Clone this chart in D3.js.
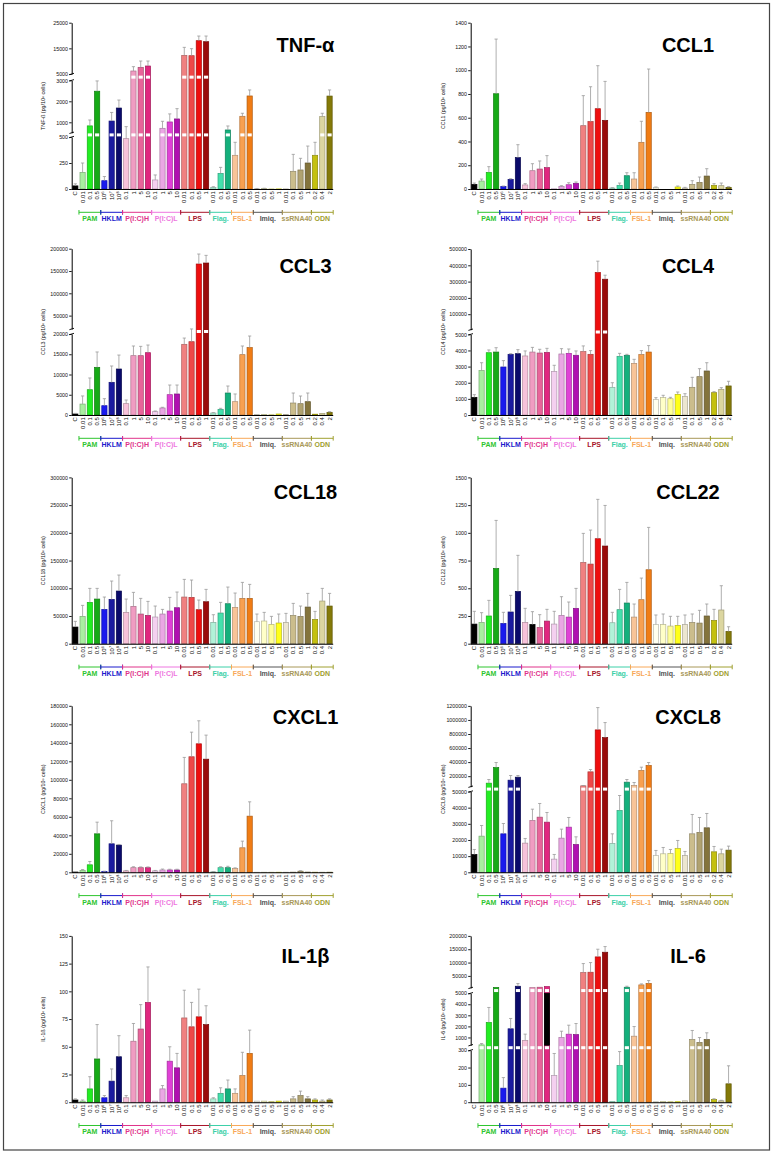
<!DOCTYPE html>
<html><head><meta charset="utf-8">
<script src="https://cdn.jsdelivr.net/npm/d3@7"></script>
<style>body{margin:0;background:#fff} svg{display:block} text{font-family:"Liberation Sans",Arial,sans-serif}</style>
</head><body><div id="chart"></div>
<script>
// ---------------- DATA ----------------
const categories = ["C","0.01","0.1","0.5","10⁶","10⁷","10⁸","0.1","1","5","10","0.1","1","5","10","0.01","0.1","0.5","1","0.01","0.1","0.5","0.01","0.1","0.5","0.01","0.1","0.5","1","0.01","0.1","0.5","1","0.2","0.4","2"];
const groupNames = ["PAM","HKLM","P(I:C)H","P(I:C)L","LPS","Flag.","FSL-1","Imiq.","ssRNA40","ODN"];
const groupSizes = [3,3,4,4,4,3,3,4,4,3];
const groupColors = ["#2ec52e","#1a1acc","#e0338a","#ee77e0","#a8142a","#3cd0a8","#f8a858","#555555","#a89858","#a0a030"];
const barColors = ["#000000",
 "#a8eea0","#22ee22","#16aa16",
 "#1a1aee","#1a1aa0","#0a0a6a",
 "#f7c2da","#f09cc2","#e8649a","#e0277f",
 "#f4d0f0","#eaa6e4","#e040d6","#b010b0",
 "#f08080","#ee4848","#ee0e0e","#9a0a0a",
 "#b2f2d8","#44e0ac","#14b07c",
 "#f8c498","#f8a050","#f07c14",
 "#fffff0","#ffffc8","#ffff98","#ffff1a",
 "#ece6d0","#cbbd8c","#b0a270","#84743c",
 "#c4c010","#dcd6a0","#847a08"];

const tnfMean = [30,160,830,2480,80,1060,1680,484,6170,7600,8120,87,714,1016,1160,12270,12140,17990,17600,16,150,635,324,1286,2254,3,4,1,1,1,170,183,250,324,1270,2250];
const tnfSD   = [20,90,280,490,40,410,380,310,1690,2460,1940,48,334,384,490,3120,2730,1810,2200,6,58,190,125,144,286,2,3,0,0,0,163,112,163,125,160,290];
const tnfTicks = [[0,250,500],[1000,2000,3000],[5000,15000,25000]];

const ccl1Mean = [39,67,140,802,22,81,264,34,154,168,180,2,20,36,48,533,567,676,578,8,31,112,84,393,645,14,0,0,17,8,39,56,109,31,28,14];
const ccl1SD   = [11,17,48,460,3,6,109,11,59,68,101,0,8,17,11,253,294,362,328,3,19,25,53,177,365,3,0,0,8,6,31,45,62,14,22,6];
const ccl1Ticks = [[0,200,400,600,800,1000,1200,1400]];

const ccl3Mean = [250,2700,6250,11770,2300,8070,11360,2800,14650,14650,15390,820,1730,5020,5190,17450,18100,165670,167900,490,1400,5430,3290,14900,16630,150,100,80,250,100,2960,2800,3290,200,400,660];
const ccl3SD   = [150,2000,2890,3790,1730,4030,3440,900,2390,2300,1890,170,170,2380,2210,1550,2000,22390,17170,100,250,1730,1900,2140,2870,0,0,0,0,0,2470,1890,2140,0,0,160];
const ccl3Ticks = [[0,5000,10000,15000,20000],[50000,100000,150000,200000]];

const ccl4Mean = [1095,2750,3860,3900,2975,3760,3800,3657,3900,3840,3880,2700,3780,3820,3700,3930,3760,355770,314700,1715,3636,3700,3200,3740,3900,970,1075,1010,1280,1157,1715,2376,2727,1384,1590,1800];
const ccl4SD   = [165,490,170,270,395,40,250,313,290,230,250,380,330,270,270,350,230,69730,24660,285,184,60,250,250,400,105,145,85,145,163,620,494,513,62,104,290];
const ccl4Ticks = [[0,1000,2000,3000,4000,5000],[100000,200000,300000,400000,500000]];

const ccl18Mean = [30060,49300,74550,80560,61920,79960,94990,56510,67330,53500,51100,48100,53500,58920,64930,84170,83570,61320,75750,38480,55310,72140,65530,81760,81760,39680,40880,34870,37270,38480,51100,49300,66130,43890,76950,67940];
const ccl18SD   = [10220,19840,25250,19240,22250,33070,28860,24050,25260,28260,25250,19840,8420,24650,28260,31860,31260,17440,22250,13820,19240,30060,25850,28860,25250,13820,15630,14430,16230,16230,21640,18640,24650,14430,22850,22840];
const ccl18Ticks = [[0,50000,100000,150000,200000,250000,300000]];

const ccl22Mean = [177,192,250,679,183,286,472,192,174,147,204,177,255,240,319,733,718,947,881,189,307,367,240,397,667,174,174,159,165,174,192,186,250,210,304,111];
const ccl22SD   = [115,88,141,433,100,150,325,127,115,115,106,115,169,136,180,262,307,355,366,94,183,186,118,195,382,85,94,88,82,85,76,115,108,100,219,42];
const ccl22Ticks = [[0,250,500,750,1000,1250,1500]];

const cxcl1Mean = [300,2000,8100,41600,800,30800,29400,1500,5000,5000,5000,1500,2500,2500,2500,95700,124900,138900,122300,500,5000,5000,4000,26500,60700,100,100,100,100,100,200,1200,200,100,100,100];
const cxcl1SD   = [0,1000,3600,12600,400,24900,700,500,1000,800,800,500,1000,800,800,28500,26600,24900,26000,200,1000,1500,800,7200,15500,0,0,0,0,0,0,500,0,0,0,0];
const cxcl1Ticks = [[0,20000,40000,60000,80000,100000,120000,140000,160000,180000]];

const cxcl8Mean = [11030,22370,100240,322990,23810,142890,185540,18040,32060,34120,31030,8140,21130,27940,17220,62320,261360,858530,749530,17840,38250,114450,67060,280320,351410,10410,11440,11650,14740,10410,23810,24640,27530,12680,11440,13710];
const cxcl8SD   = [3090,6600,52130,71090,6390,66350,23700,2890,7010,8460,5980,2890,5570,5980,4740,4740,33180,317530,213270,5970,9270,37920,42650,47400,42670,3100,3920,2470,4950,2480,11960,9280,8860,3300,2890,2480];
const cxcl8Ticks = [[0,10000,20000,30000,40000,50000],[200000,400000,600000,800000,1000000,1200000]];

const il1bMean = [2,1,12,39,4,19,41,4,55,66,90,1,12,37,31,76,68,77,70,3,8,12,8,24,44,1,1,0.5,1,1,3,6,3,2,1,2];
const il1bSD   = [1,1,11,31,2,11,19,2,16,22,32,0,3,13,13,25,22,25,17,1,5,8,4,21,21,0,0,0,0,0,2,4,2,1,1,1];
const il1bTicks = [[0,25,50,75,100,125,150]];

const il6Mean = [0,330,2354,6500,81,1782,11250,728,6000,7500,10000,154,993,1295,1265,62500,63750,121250,138750,5,211,7500,1114,16250,21250,3,5,3,3,8,818,547,818,15,8,106];
const il6SD   = [0,120,1356,0,61,934,10000,572,0,0,0,127,572,813,994,33750,36250,28750,21250,0,81,3750,873,3750,11250,0,0,0,0,0,813,446,602,5,3,104];
const il6Ticks = [[0,100,200,300],[1000,2000,3000,4000,5000],[50000,100000,150000,200000]];

// ---------------- LAYOUT ----------------
const W = 773, H = 1157;
const colX = [71.7, 470.7];
const plotW = 261.5;
const rowBase = [189, 415, 643.7, 872.3, 1102.2];
const titleX = [305.5, 688];
const titleOff = [-137.3, -142, -144.7, -148.3, -139.2];
const ylabX = [43.5, 443];

const panels = [
 {title:"TNF-α", ylab:"TNF-ß (pg/10⁶ cells)", mean:tnfMean, sd:tnfSD, ticks:tnfTicks, col:0,row:0,
  segs:[[0,500,0,52],[500,3000,56.2,108.7],[5000,25000,115,166.3]]},
 {title:"CCL1", ylab:"CCL1 (pg/10⁶ cells)", mean:ccl1Mean, sd:ccl1SD, ticks:ccl1Ticks, col:1,row:0,
  segs:[[0,1400,0,166.3]]},
 {title:"CCL3", ylab:"CCL3 (pg/10⁶ cells)", mean:ccl3Mean, sd:ccl3SD, ticks:ccl3Ticks, col:0,row:1,
  segs:[[0,20000,0,81],[20000,200000,86,166.3]]},
 {title:"CCL4", ylab:"CCL4 (pg/10⁶ cells)", mean:ccl4Mean, sd:ccl4SD, ticks:ccl4Ticks, col:1,row:1,
  segs:[[0,5000,0,80.7],[5000,500000,85.3,166]]},
 {title:"CCL18", ylab:"CCL18 (pg/10⁶ cells)", mean:ccl18Mean, sd:ccl18SD, ticks:ccl18Ticks, col:0,row:2,
  segs:[[0,300000,0,166.3]]},
 {title:"CCL22", ylab:"CCL22 (pg/10⁶ cells)", mean:ccl22Mean, sd:ccl22SD, ticks:ccl22Ticks, col:1,row:2,
  segs:[[0,1500,0,166.3]], override:[{i:8,color:"#000000"}]},
 {title:"CXCL1", ylab:"CXCL1 (pg/10⁶ cells)", mean:cxcl1Mean, sd:cxcl1SD, ticks:cxcl1Ticks, col:0,row:3,
  segs:[[0,180000,0,166.5]]},
 {title:"CXCL8", ylab:"CXCL8 (pg/10⁶ cells)", mean:cxcl8Mean, sd:cxcl8SD, ticks:cxcl8Ticks, col:1,row:3,
  segs:[[0,50000,0,80.8],[50000,1200000,85.6,166.4]]},
 {title:"IL-1β", ylab:"IL-1ß (pg/10⁶ cells)", mean:il1bMean, sd:il1bSD, ticks:il1bTicks, col:0,row:4,
  segs:[[0,150,0,166.3]]},
 {title:"IL-6", ylab:"IL-6 (pg/10⁶ cells)", mean:il6Mean, sd:il6SD, ticks:il6Ticks, col:1,row:4,
  segs:[[0,300,0,52],[300,5000,57,109],[5000,200000,114.3,166.3]], override:[{i:10,color:"#000000",seg:1}]}
];

// ---------------- DRAW ----------------
const svg = d3.select("#chart").append("svg").attr("width", W).attr("height", H);
svg.append("rect").attr("x",3.5).attr("y",3.5).attr("width",766).attr("height",1146.5)
  .attr("fill","none").attr("stroke","#444").attr("stroke-width",1.2);

const x = d3.scaleBand().domain(d3.range(categories.length)).range([0, plotW]).paddingInner(0.28).paddingOuter(0.14);
const step = x.step();

const groupStarts = [];
{ let s = 1; groupSizes.forEach(n => { groupStarts.push(s); s += n; }); }

panels.forEach(p => {
  const ox = colX[p.col], base = rowBase[p.row];
  const g = svg.append("g").attr("transform", `translate(${ox},${base})`);
  const dom = [], rng = [];
  p.segs.forEach(s => { dom.push(s[0], s[1]); rng.push(-s[2], -s[3]); });
  const y = d3.scaleLinear().domain(dom).range(rng).clamp(true);

  const bars = g.append("g");
  p.mean.forEach((v, i) => {
    const c = barColors[i];
    const ov = (p.override || []).find(o => o.i === i && o.seg === undefined);
    const col = ov ? ov.color : c;
    const y0 = y(0), y1 = y(v);
    if (y0 - y1 > 0.05) {
      bars.append("rect").attr("x", x(i)).attr("width", x.bandwidth())
        .attr("y", y1).attr("height", y0 - y1)
        .attr("fill", col).attr("stroke", d3.color(col).darker(0.9)).attr("stroke-width", 0.7);
    }
    (p.override || []).filter(o => o.i === i && o.seg !== undefined).forEach(o => {
      const s = p.segs[o.seg];
      const top = Math.max(y1, -s[3]), bot = -s[2];
      if (bot > top) bars.append("rect").attr("x", x(i)).attr("width", x.bandwidth())
        .attr("y", top).attr("height", bot - top).attr("fill", o.color).attr("stroke", o.color).attr("stroke-width",0.7);
    });
    for (let k = 0; k < p.segs.length - 1; k++) {
      const gapLo = -p.segs[k][3], gapHi = -p.segs[k+1][2];
      const yc = (gapLo + gapHi) / 2;
      if (y1 < yc - 1) {
        bars.append("rect").attr("x", x(i) + 0.55).attr("width", x.bandwidth() - 1.1)
          .attr("y", yc - 1.5).attr("height", 3).attr("fill", "#fff");
      }
    }
    const sd = p.sd[i];
    if (sd > 0) {
      const cx = x(i) + x.bandwidth() / 2, ye = y(v + sd);
      bars.append("line").attr("x1", cx).attr("x2", cx).attr("y1", y1).attr("y2", ye)
        .attr("stroke", "#9a9a9a").attr("stroke-width", 0.8);
      bars.append("line").attr("x1", cx - 1.6).attr("x2", cx + 1.6).attr("y1", ye).attr("y2", ye)
        .attr("stroke", "#9a9a9a").attr("stroke-width", 0.8);
    }
  });

  p.segs.forEach((s, k) => {
    const sc = d3.scaleLinear().domain([s[0], s[1]]).range([-s[2], -s[3]]);
    const ax = g.append("g").call(d3.axisLeft(sc).tickValues(p.ticks[k]).tickSize(2.5).tickSizeOuter(0).tickPadding(1.2).tickFormat(d3.format("d")));
    ax.select(".domain").attr("stroke", "#000").attr("stroke-width", 1);
    ax.selectAll(".tick line").attr("stroke", "#000").attr("stroke-width", 0.9);
    ax.selectAll(".tick text").attr("font-size", 5.3).attr("fill", "#111").attr("font-family", "Liberation Sans, Arial, sans-serif");
  });
  for (let k = 0; k < p.segs.length - 1; k++) {
    [-p.segs[k][3], -p.segs[k+1][2]].forEach(yy => {
      g.append("line").attr("x1", -2.3).attr("x2", 2.3).attr("y1", yy + 0.7).attr("y2", yy - 0.7)
        .attr("stroke", "#000").attr("stroke-width", 0.9);
    });
  }

  g.append("line").attr("x1", 0).attr("x2", plotW).attr("y1", 0.5).attr("y2", 0.5)
    .attr("stroke", "#000").attr("stroke-width", 1.1);

  g.append("g").selectAll("text").data(categories).join("text")
    .attr("transform", (d, i) => `translate(${x(i) + x.bandwidth()/2},${2.2}) rotate(-90)`)
    .attr("text-anchor", "end").attr("dy", "0.35em")
    .attr("font-size", 6).attr("fill", "#111").text(d => d);

  const bg = g.append("g");
  groupNames.forEach((nm, gi) => {
    const s = groupStarts[gi], e = s + groupSizes[gi];
    const x1 = s * step, x2 = e * step, yb = 23.3;
    const c = groupColors[gi];
    bg.append("line").attr("x1", x1).attr("x2", x2).attr("y1", yb).attr("y2", yb).attr("stroke", c).attr("stroke-width", 1);
    [x1, x2].forEach(xx => bg.append("line").attr("x1", xx).attr("x2", xx).attr("y1", yb - 2.3).attr("y2", yb + 2.3).attr("stroke", c).attr("stroke-width", 1));
    bg.append("text").attr("x", (x1 + x2) / 2).attr("y", 32.3).attr("text-anchor", "middle")
      .attr("font-size", 7).attr("font-weight", "bold").attr("fill", c).text(nm);
  });

  svg.append("text").attr("transform", `translate(${ylabX[p.col]},${base - 83}) rotate(-90)`)
    .attr("text-anchor", "middle").attr("dy", "0.35em").attr("font-size", 5.3).attr("fill", "#111").text(p.ylab);

  svg.append("text").attr("x", titleX[p.col]).attr("y", base + titleOff[p.row])
    .attr("text-anchor", "middle").attr("font-size", 20).attr("font-weight", "bold").attr("fill", "#000").text(p.title);
});
</script></body></html>
